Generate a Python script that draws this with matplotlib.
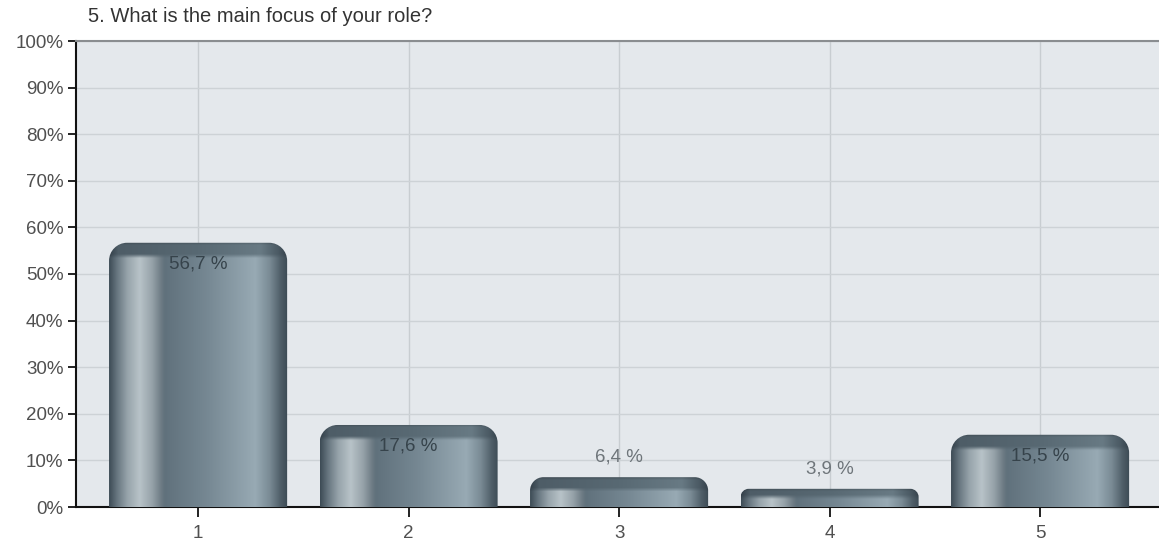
import matplotlib
matplotlib.use("Agg")
import matplotlib.pyplot as plt
import numpy as np
from matplotlib.path import Path
from matplotlib.patches import PathPatch

# ------------------------------------------------------------------
# data
# ------------------------------------------------------------------
TITLE = "5. What is the main focus of your role?"
categories = [1, 2, 3, 4, 5]
values = [56.7, 17.6, 6.4, 3.9, 15.5]
value_labels = ["56,7 %", "17,6 %", "6,4 %", "3,9 %", "15,5 %"]
y_ticks = list(range(0, 101, 10))
y_tick_labels = [f"{t}%" for t in y_ticks]

# ------------------------------------------------------------------
# layout
# ------------------------------------------------------------------
W, H, DPI = 1159, 540, 100
AX_L, AX_R, AX_T, AX_B = 76, 1159, 41, 507  # pixel box of plot area
XLIM = (0.42, 5.565)
YLIM = (0, 100)
BAR_W = 0.846
FONT = "Liberation Sans"

plt.rcParams["font.family"] = [FONT, "DejaVu Sans"]

fig = plt.figure(figsize=(W / DPI, H / DPI), dpi=DPI)
ax = fig.add_axes([AX_L / W, 1 - AX_B / H, (AX_R - AX_L) / W, (AX_B - AX_T) / H])
ax.set_facecolor("#e4e8ec")

px_x = (AX_R - AX_L) / (XLIM[1] - XLIM[0])
px_y = (AX_B - AX_T) / (YLIM[1] - YLIM[0])

# horizontal colour profiles for the "cylinder" bars
body_stops = [
    (0.00, (62, 76, 86)), (0.04, (100, 115, 125)), (0.10, (150, 163, 170)),
    (0.17, (184, 195, 200)), (0.24, (150, 162, 169)), (0.29, (110, 124, 133)),
    (0.31, (96, 113, 124)), (0.55, (118, 136, 147)), (0.82, (152, 170, 180)),
    (0.90, (122, 139, 149)), (0.96, (80, 95, 105)), (1.00, (60, 74, 84)),
]
cap_stops = [
    (0.00, (52, 64, 74)), (0.05, (78, 93, 103)), (0.50, (88, 105, 115)),
    (0.85, (104, 122, 132)), (0.95, (74, 89, 99)), (1.00, (52, 64, 74)),
]


def profile(stops, n):
    t = np.linspace(0, 1, n)
    pos = [s[0] for s in stops]
    out = np.zeros((n, 3))
    for c in range(3):
        out[:, c] = np.interp(t, pos, [s[1][c] for s in stops])
    return out / 255.0


def bar_image(h_px):
    ncol = 200
    nrow = max(int(round(h_px)), 4)
    body = profile(body_stops, ncol)
    cap = profile(cap_stops, ncol)
    cap_px = min(12.0, h_px * 0.35)
    d = np.arange(nrow)[:, None] + 0.5
    w = np.clip((cap_px + 4 - d) / 4.0, 0, 1)
    img = w[:, :, None] * cap[None] + (1 - w[:, :, None]) * body[None]
    edge = np.clip((3 - d) / 3.0, 0, 1) * 0.2
    img = img * (1 - edge[:, :, None])
    return np.clip(img, 0, 1)


def rounded_top_path(x0, x1, top, rx, ry):
    k = 0.5523
    verts = [
        (x0, 0), (x0, top - ry),
        (x0, top - ry + k * ry), (x0 + rx - k * rx, top), (x0 + rx, top),
        (x1 - rx, top),
        (x1 - rx + k * rx, top), (x1, top - ry + k * ry), (x1, top - ry),
        (x1, 0), (x0, 0),
    ]
    codes = [Path.MOVETO, Path.LINETO,
             Path.CURVE4, Path.CURVE4, Path.CURVE4,
             Path.LINETO,
             Path.CURVE4, Path.CURVE4, Path.CURVE4,
             Path.LINETO, Path.CLOSEPOLY]
    return Path(verts, codes)


for cat, val, lab in zip(categories, values, value_labels):
    x0, x1 = cat - BAR_W / 2, cat + BAR_W / 2
    h_px = val * px_y
    r_px = min(18.0, h_px * 0.45)
    patch = PathPatch(rounded_top_path(x0, x1, val, r_px / px_x, r_px / px_y),
                      facecolor="none", edgecolor="none", zorder=3)
    ax.add_patch(patch)
    im = ax.imshow(bar_image(h_px), extent=(x0, x1, 0, val), aspect="auto",
                   interpolation="bilinear", zorder=3)
    im.set_clip_path(patch)

    # value label: inside the top for tall bars, above for short ones
    if val > 10:
        ax.text(cat, val - 4.5, lab, ha="center", va="center",
                fontsize=13.5, color="#36434b", zorder=5)
    else:
        ax.text(cat, val + 4.3, lab, ha="center", va="center",
                fontsize=13.5, color="#6e757a", zorder=5)

ax.set_xlim(*XLIM)
ax.set_ylim(*YLIM)

ax.set_xticks(categories)
ax.set_xticklabels([str(c) for c in categories])
ax.set_yticks(y_ticks)
ax.set_yticklabels(y_tick_labels)

ax.set_axisbelow(True)
ax.grid(axis="y", color="#cdd2d6", lw=1.0)
ax.grid(axis="x", color="#c8cdd1", lw=1.0)

for side in ["left", "bottom"]:
    ax.spines[side].set_color("#111111")
    ax.spines[side].set_linewidth(1.5)
ax.spines["top"].set_color("#8a8d90")
ax.spines["top"].set_linewidth(1.5)
ax.spines["right"].set_visible(False)

ax.tick_params(axis="y", length=6, width=1.3, color="#111111",
               labelsize=13.5, labelcolor="#505050", pad=3)
ax.tick_params(axis="x", length=7, width=1.3, color="#111111",
               labelsize=13.5, labelcolor="#505050", pad=6)

fig.text(88 / W, 1 - 17 / H, TITLE, ha="left", va="center",
         fontsize=14.5, color="#333333")

fig.savefig("out.png", dpi=DPI)
